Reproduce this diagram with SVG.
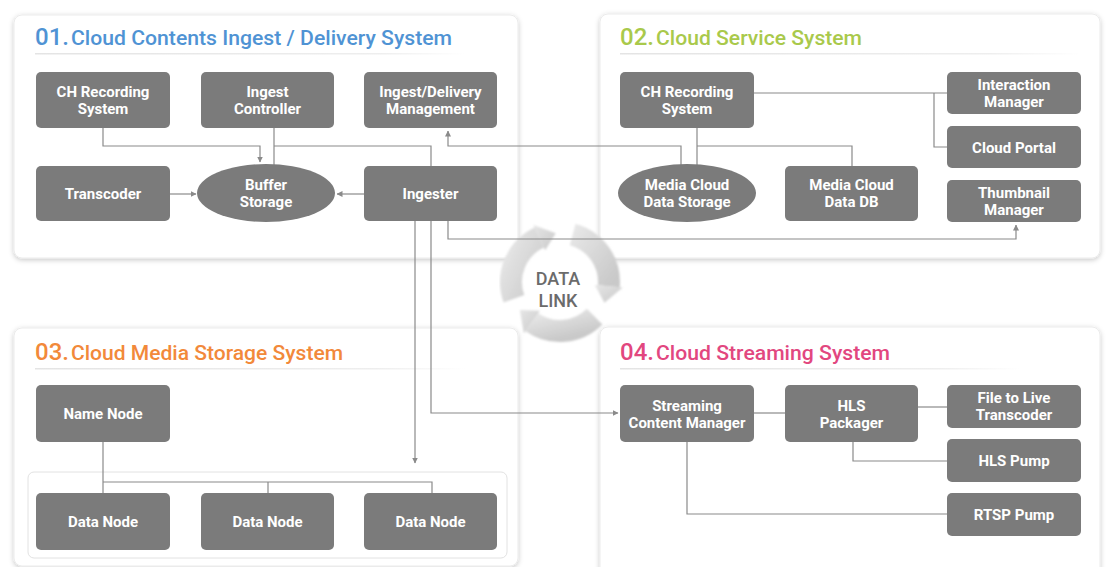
<svg xmlns="http://www.w3.org/2000/svg" width="1112" height="567" viewBox="0 0 1112 567">
  <defs>
    <filter id="panelShadow" x="-5%" y="-5%" width="110%" height="115%">
      <feDropShadow dx="0" dy="1.5" stdDeviation="2.5" flood-color="#000" flood-opacity="0.22"/>
    </filter>
    <filter id="soft" x="-10%" y="-10%" width="120%" height="120%">
      <feGaussianBlur stdDeviation="0.8"/>
    </filter>
    <linearGradient id="cycleGrad" x1="0" y1="0" x2="1" y2="1">
      <stop offset="0" stop-color="#e6e6e6"/>
      <stop offset="1" stop-color="#c9c9c9"/>
    </linearGradient>
    <linearGradient id="rule" x1="0" y1="0" x2="1" y2="0">
      <stop offset="0" stop-color="#e4e4e4"/>
      <stop offset="0.8" stop-color="#eeeeee"/>
      <stop offset="1" stop-color="#ffffff"/>
    </linearGradient>
    <marker id="arrow" viewBox="0 0 6 6" refX="5.5" refY="3" markerWidth="6" markerHeight="6" markerUnits="userSpaceOnUse" orient="auto">
      <path d="M0,0 L6,3 L0,6 Z" fill="#8a8a8a"/>
    </marker>
    <style>
      .panel { fill: #ffffff; stroke: #ebebeb; stroke-width: 1; filter: url(#panelShadow); }
      .num { font-family: Roboto, "Liberation Sans", sans-serif; font-weight: 500; font-size: 24px; }
      .ttl { font-family: Roboto, "Liberation Sans", sans-serif; font-weight: 500; font-size: 20px; }
      .blue { fill: #4f93d4; }
      .green { fill: #a9c94b; }
      .orange { fill: #f2893a; }
      .pink { fill: #e2477f; }
      .n { fill: #7b7b7b; }
      .t { font-family: Roboto, "Liberation Sans", sans-serif; font-weight: 700; font-size: 15px; fill: #ffffff; text-anchor: middle; }
      .c { fill: none; stroke: #8a8a8a; stroke-width: 1.2; }
      .link { font-family: Roboto, "Liberation Sans", sans-serif; font-weight: 500; font-size: 18px; fill: #6b6b6b; text-anchor: middle; }
    </style>
  </defs>

  <rect width="1112" height="567" fill="#ffffff"/>

  <!-- system panels -->
  <g id="panels">
    <rect class="panel" x="14" y="15" width="504" height="243" rx="8"/>
    <rect class="panel" x="600" y="14" width="500" height="244" rx="8"/>
    <rect class="panel" x="14" y="328" width="504" height="238" rx="8"/>
    <rect class="panel" x="600" y="327" width="500" height="250" rx="8"/>
    <rect x="28" y="472" width="479" height="86" rx="6" fill="#ffffff" stroke="#e2e2e2" stroke-width="1"/>
    <rect x="35" y="53" width="430" height="1.5" fill="url(#rule)"/>
    <rect x="620" y="53" width="460" height="1.5" fill="url(#rule)"/>
    <rect x="35" y="368" width="430" height="1.5" fill="url(#rule)"/>
    <rect x="620" y="368" width="400" height="1.5" fill="url(#rule)"/>
  </g>

  <!-- panel titles -->
  <g id="titles">
    <text class="num blue" x="35" y="45">01.</text>
    <text class="ttl blue" x="71" y="45" textLength="381" lengthAdjust="spacingAndGlyphs">Cloud Contents Ingest / Delivery System</text>
    <text class="num green" x="620" y="45">02.</text>
    <text class="ttl green" x="656" y="45" textLength="206" lengthAdjust="spacingAndGlyphs">Cloud Service System</text>
    <text class="num orange" x="35" y="360">03.</text>
    <text class="ttl orange" x="71" y="360" textLength="272" lengthAdjust="spacingAndGlyphs">Cloud Media Storage System</text>
    <text class="num pink" x="620" y="360">04.</text>
    <text class="ttl pink" x="656" y="360" textLength="234" lengthAdjust="spacingAndGlyphs">Cloud Streaming System</text>
  </g>

  <!-- data link cycle -->
  <g id="data-link">
    <g fill="url(#cycleGrad)" stroke="none" filter="url(#soft)">
      <path d="M513.96,298.76 A49,49 0 0 1 539.29,237.59" fill="none" stroke="url(#cycleGrad)" stroke-width="22"/>
      <path d="M545.21,250.28 L533.38,224.90 L555.73,233.19 Z"/>
      <path d="M572.68,234.67 A49,49 0 0 1 608.81,286.27" fill="none" stroke="url(#cycleGrad)" stroke-width="22"/>
      <path d="M594.87,285.05 L622.76,287.49 L604.41,302.71 Z"/>
      <path d="M594.65,316.65 A49,49 0 0 1 531.89,322.14" fill="none" stroke="url(#cycleGrad)" stroke-width="22"/>
      <path d="M539.92,310.67 L523.86,333.61 L519.86,310.11 Z"/>
    </g>
    <text class="link" x="558" y="285">DATA</text>
    <text class="link" x="558" y="307">LINK</text>
  </g>

  <!-- connectors -->
  <g id="connectors">
    <path class="c" d="M103,128 V146 H260 V162" marker-end="url(#arrow)"/>
    <path class="c" d="M274,128 V165"/>
    <path class="c" d="M274,146 H431 V166"/>
    <path class="c" d="M170,194 H196" marker-end="url(#arrow)"/>
    <path class="c" d="M364,194 H337" marker-end="url(#arrow)"/>
    <path class="c" d="M681,165 V146 H448 V131" marker-end="url(#arrow)"/>
    <path class="c" d="M697,128 V165"/>
    <path class="c" d="M697,146 H852 V166"/>
    <path class="c" d="M754,93 H947"/>
    <path class="c" d="M934,93 V147 H947"/>
    <path class="c" d="M448,221 V239 H1016 V225" marker-end="url(#arrow)"/>
    <path class="c" d="M415,221 V463" marker-end="url(#arrow)"/>
    <path class="c" d="M431,221 V413 H618" marker-end="url(#arrow)"/>
    <path class="c" d="M103,442 V493"/>
    <path class="c" d="M103,482 H432 V493"/>
    <path class="c" d="M268,482 V493"/>
    <path class="c" d="M754,413 H785"/>
    <path class="c" d="M918,407 H947"/>
    <path class="c" d="M853,442 V461 H947"/>
    <path class="c" d="M687,442 V514 H947"/>
  </g>

  <!-- 01 Cloud Contents Ingest / Delivery System -->
  <g id="ch-recording-1">
    <rect class="n" x="36" y="72" width="134" height="56" rx="5"/>
    <text class="t" x="103" y="97">CH Recording</text>
    <text class="t" x="103" y="114">System</text>
  </g>
  <g id="ingest-controller">
    <rect class="n" x="201" y="72" width="133" height="56" rx="5"/>
    <text class="t" x="267.5" y="97">Ingest</text>
    <text class="t" x="267.5" y="114">Controller</text>
  </g>
  <g id="ingest-delivery-management">
    <rect class="n" x="364" y="72" width="133" height="56" rx="5"/>
    <text class="t" x="430.5" y="97">Ingest/Delivery</text>
    <text class="t" x="430.5" y="114">Management</text>
  </g>
  <g id="transcoder">
    <rect class="n" x="36" y="166" width="134" height="55" rx="5"/>
    <text class="t" x="103" y="199">Transcoder</text>
  </g>
  <g id="buffer-storage">
    <ellipse class="n" cx="266" cy="193" rx="69" ry="29"/>
    <text class="t" x="266" y="190">Buffer</text>
    <text class="t" x="266" y="207">Storage</text>
  </g>
  <g id="ingester">
    <rect class="n" x="364" y="166" width="133" height="55" rx="5"/>
    <text class="t" x="430.5" y="199">Ingester</text>
  </g>

  <!-- 02 Cloud Service System -->
  <g id="ch-recording-2">
    <rect class="n" x="620" y="72" width="134" height="56" rx="5"/>
    <text class="t" x="687" y="97">CH Recording</text>
    <text class="t" x="687" y="114">System</text>
  </g>
  <g id="interaction-manager">
    <rect class="n" x="947" y="72" width="134" height="42" rx="5"/>
    <text class="t" x="1014" y="90">Interaction</text>
    <text class="t" x="1014" y="107">Manager</text>
  </g>
  <g id="cloud-portal">
    <rect class="n" x="947" y="126" width="134" height="42" rx="5"/>
    <text class="t" x="1014" y="152.5">Cloud Portal</text>
  </g>
  <g id="thumbnail-manager">
    <rect class="n" x="947" y="180" width="134" height="42" rx="5"/>
    <text class="t" x="1014" y="198">Thumbnail</text>
    <text class="t" x="1014" y="215">Manager</text>
  </g>
  <g id="media-cloud-data-storage">
    <ellipse class="n" cx="687" cy="193" rx="69" ry="29"/>
    <text class="t" x="687" y="190">Media Cloud</text>
    <text class="t" x="687" y="207">Data Storage</text>
  </g>
  <g id="media-cloud-data-db">
    <rect class="n" x="785" y="166" width="133" height="55" rx="5"/>
    <text class="t" x="851.5" y="190">Media Cloud</text>
    <text class="t" x="851.5" y="207">Data DB</text>
  </g>

  <!-- 03 Cloud Media Storage System -->
  <g id="name-node">
    <rect class="n" x="36" y="385" width="134" height="57" rx="5"/>
    <text class="t" x="103" y="419">Name Node</text>
  </g>
  <g id="data-node-1">
    <rect class="n" x="36" y="493" width="134" height="57" rx="5"/>
    <text class="t" x="103" y="527">Data Node</text>
  </g>
  <g id="data-node-2">
    <rect class="n" x="201" y="493" width="133" height="57" rx="5"/>
    <text class="t" x="267.5" y="527">Data Node</text>
  </g>
  <g id="data-node-3">
    <rect class="n" x="364" y="493" width="133" height="57" rx="5"/>
    <text class="t" x="430.5" y="527">Data Node</text>
  </g>

  <!-- 04 Cloud Streaming System -->
  <g id="streaming-content-manager">
    <rect class="n" x="620" y="385" width="134" height="57" rx="5"/>
    <text class="t" x="687" y="411">Streaming</text>
    <text class="t" x="687" y="428">Content Manager</text>
  </g>
  <g id="hls-packager">
    <rect class="n" x="785" y="385" width="133" height="57" rx="5"/>
    <text class="t" x="851.5" y="411">HLS</text>
    <text class="t" x="851.5" y="428">Packager</text>
  </g>
  <g id="file-to-live-transcoder">
    <rect class="n" x="947" y="385" width="134" height="43" rx="5"/>
    <text class="t" x="1014" y="403">File to Live</text>
    <text class="t" x="1014" y="420">Transcoder</text>
  </g>
  <g id="hls-pump">
    <rect class="n" x="947" y="439" width="134" height="43" rx="5"/>
    <text class="t" x="1014" y="466">HLS Pump</text>
  </g>
  <g id="rtsp-pump">
    <rect class="n" x="947" y="493" width="134" height="43" rx="5"/>
    <text class="t" x="1014" y="520">RTSP Pump</text>
  </g>
</svg>
